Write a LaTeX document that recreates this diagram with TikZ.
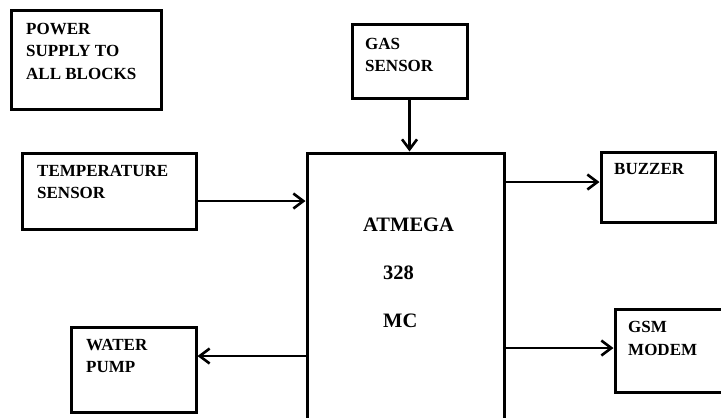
\documentclass[tikz,border=0pt]{standalone}
\usepackage{fontspec}
\setmainfont{Liberation Serif}
\usetikzlibrary{arrows.meta,calc}
\begin{document}
\begin{tikzpicture}[x=1bp,y=-1bp,
  blk/.style={draw=black,line width=3bp,rectangle,inner sep=0pt,fill=white},
  lbl/.style={anchor=north west,inner sep=0pt,align=left,
    font=\fontsize{17bp}{22.8bp}\selectfont\bfseries},
  mclbl/.style={anchor=north west,inner sep=0pt,align=left,
    font=\fontsize{20.5bp}{48bp}\selectfont\bfseries},
  arr/.style={line width=2.3bp,-{Straight Barb[length=10bp,width=15bp,line width=2.6bp]}}]
\useasboundingbox (0,0) rectangle (721,417);
\fill[white] (0,0) rectangle (721,417);
\clip (0,0) rectangle (721,417);
% boxes
\node[blk,minimum width=149bp,minimum height=99bp] (power) at (86.5,59.5) {};
\node[blk,minimum width=115bp,minimum height=74bp] (gas) at (409.5,61) {};
\node[blk,minimum width=173bp,minimum height=76bp] (temp) at (109.5,191) {};
\node[blk,minimum width=197bp,minimum height=287bp] (mc) at (405.5,296.5) {};
\node[blk,minimum width=114bp,minimum height=70bp] (buzz) at (658,187) {};
\node[blk,minimum width=125bp,minimum height=85bp] (pump) at (133.5,369.5) {};
\node[blk,minimum width=125bp,minimum height=83bp] (gsm) at (677.5,350.5) {};
% texts
\node[lbl] (powertxt) at (26,22.7) {POWER\\SUPPLY TO\\ALL BLOCKS};
\node[lbl] (gastxt) at (365,37.7) {GAS\\SENSOR};
\node[lbl] (temptxt) at (37,164.7) {TEMPERATURE\\SENSOR};
\node[lbl] (buzztxt) at (614,163) {BUZZER};
\node[lbl] (pumptxt) at (86,338.7) {WATER\\PUMP};
\node[lbl] (gsmtxt) at (628,321) {GSM\\MODEM};
\node[mclbl] (mctxt) at (363,217.4) {ATMEGA\\\hspace*{20bp}328\\\hspace*{20bp}MC};
% connectors
\draw[arr] (gas.south) -- (gas.south |- mc.north);
\coordinate (tempout) at ($(temp.east)+(0,10)$);
\draw[arr] (tempout) -- (mc.west |- tempout);
\coordinate (buzzin) at ($(buzz.west)+(0,-5)$);
\draw[arr] (mc.east |- buzzin) -- (buzzin);
\coordinate (pumpin) at ($(pump.east)+(0,-13.5)$);
\draw[arr] (mc.west |- pumpin) -- (pumpin);
\coordinate (gsmin) at ($(gsm.west)+(0,-2.5)$);
\draw[arr] (mc.east |- gsmin) -- (gsmin);
\end{tikzpicture}
\end{document}
